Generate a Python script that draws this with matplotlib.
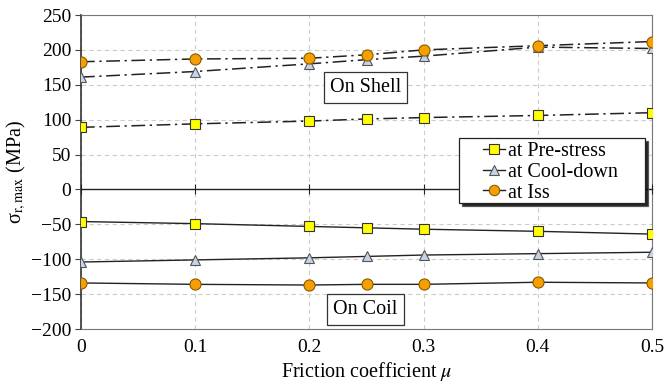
import matplotlib
matplotlib.use('Agg')
import matplotlib.pyplot as plt
from matplotlib.patches import Rectangle, Shadow
import numpy as np

mu = [0, 0.1, 0.2, 0.25, 0.3, 0.4, 0.5]

# On shell (dash-dot)
shell_pre = [89, 94, 98, 101, 103, 106, 110]
shell_cool = [161, 169, 180, 186, 191, 204, 202]
shell_iss = [183, 187, 188, 193, 200, 206, 212]

# On coil (solid)
coil_pre = [-46, -49, -53, -55, -57, -60, -64]
coil_cool = [-104, -101, -98, -96, -94, -92, -90]
coil_iss = [-134, -136, -137, -136, -136, -133, -134]

labels = ['at Pre-stress', 'at Cool-down', 'at Iss']

plt.rcParams['font.family'] = ['Liberation Serif', 'DejaVu Serif']
plt.rcParams['mathtext.fontset'] = 'stix'

fig = plt.figure(figsize=(6.67, 3.89), dpi=100)
ax = fig.add_axes([81/667, 1 - 329/389, 571/667, 314/389])

sq = dict(marker='s', ms=7.5, mfc='#FFFF00', mec='#333333', mew=0.8)
tri = dict(marker='^', ms=7.5, mfc='#C5D3E6', mec='#555555', mew=0.8)
cir = dict(marker='o', ms=8, mfc='#F5A000', mec='#8A5A00', mew=0.8)
dd = (0, (9, 3, 1.5, 3))

ax.plot(mu, shell_pre, color='#222222', lw=1.1, ls=dd, zorder=3, **sq)
ax.plot(mu, shell_cool, color='#222222', lw=1.1, ls=dd, zorder=3, **tri)
ax.plot(mu, shell_iss, color='#222222', lw=1.1, ls=dd, zorder=4, **cir)

l1, = ax.plot(mu, coil_pre, color='#222222', lw=1.0, zorder=3, **sq)
l2, = ax.plot(mu, coil_cool, color='#222222', lw=1.0, zorder=3, **tri)
l3, = ax.plot(mu, coil_iss, color='#222222', lw=1.0, zorder=3, **cir)

ax.set_xlim(0, 0.5)
ax.set_ylim(-200, 250)
ax.set_xticks(np.arange(0, 0.51, 0.1))
ax.set_xticklabels(['0', '0.1', '0.2', '0.3', '0.4', '0.5'])
ax.set_yticks(np.arange(-200, 251, 50))
ax.tick_params(labelsize=14, length=4, width=0.8, color='#444444')
ax.tick_params(axis='x', length=0, pad=7)
ax.tick_params(axis='y', pad=3)
ax.grid(True, ls=(0, (4, 3)), color='#CCCCCC', lw=0.8)
for s in ['top', 'right', 'bottom']:
    ax.spines[s].set_color('#777777')
ax.spines['left'].set_color('#333333')
ax.spines['left'].set_linewidth(1.2)

# zero line with crossing ticks
ax0 = ax.twiny()
ax0.set_xlim(ax.get_xlim())
ax0.spines['top'].set_position(('data', 0))
ax0.spines['top'].set_color('#222222')
ax0.spines['top'].set_linewidth(1.0)
for s in ['bottom', 'left', 'right']:
    ax0.spines[s].set_visible(False)
ax0.set_xticks(np.arange(0, 0.51, 0.1))
ax0.tick_params(axis='x', direction='inout', length=7, width=0.8, labeltop=False, color='#222222')

ax.set_xlabel(r'Friction coefficient $\mu$', fontsize=14.5, labelpad=3)
ax.set_ylabel('σ$_{\\mathrm{r,max}}$ (MPa)', fontsize=14.5, labelpad=2)

box = dict(boxstyle='square,pad=0.3', fc='white', ec='#333333', lw=0.9)
ax.text(0.249, 146, 'On Shell', fontsize=14.5, ha='center', va='center', bbox=box, zorder=5)
ax.text(0.249, -172, 'On Coil', fontsize=14.5, ha='center', va='center', bbox=box, zorder=5)

# legend frame (wider than entries, with dark shadow)
fx0, fy0 = (459 - 81) / 571, (329 - 203) / 314
fw, fh = (645 - 459) / 571, 65 / 314
frame = Rectangle((fx0, fy0), fw, fh, transform=ax0.transAxes, fc='white',
                  ec='#222222', lw=0.9, zorder=6)
ax0.add_patch(frame)
ax0.add_patch(Shadow(frame, 2.5 / 571, -2.5 / 314, fc='black', alpha=0.85, zorder=5.9))

leg = ax0.legend([l1, l2, l3], labels, loc='upper right',
                 bbox_to_anchor=((622 - 81) / 571, fy0 + fh),
                 fontsize=14.5, frameon=False,
                 handlelength=1.1, handletextpad=0.15, borderpad=0.2, labelspacing=0.08,
                 borderaxespad=0)
leg.set_zorder(7)
for h in leg.legend_handles:
    h.set_markersize(7.5)

fig.savefig('out.png', dpi=100)
